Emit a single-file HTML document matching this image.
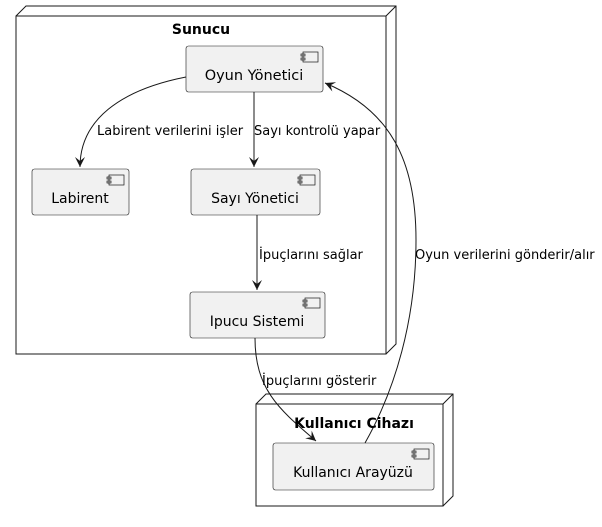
<!DOCTYPE html>
<html><head><meta charset="utf-8"><style>html,body{margin:0;padding:0;background:#fff}</style></head><body>
<svg width="602" height="522" viewBox="0 0 602 522" xmlns="http://www.w3.org/2000/svg" font-family="'DejaVu Sans','Liberation Sans',sans-serif">
<defs><marker id="a" markerWidth="12" markerHeight="12" refX="10" refY="5" orient="auto" markerUnits="userSpaceOnUse"><path d="M0,0 L10,5 L0,10 L4,5 Z" fill="#181818"/></marker></defs>
<g fill="none" stroke="#181818" stroke-width="1">
<path d="M16,16 L26,6 L396,6 L396,344 L386,354 M386,16 L396,6" />
<rect x="16" y="16" width="370" height="338" fill="#fff"/>
<path d="M256,404 L266,394 L453,394 L453,496 L443,506 M443,404 L453,394"/>
<rect x="256" y="404" width="187" height="102" fill="#fff"/>
</g>
<g fill="#f1f1f1" stroke="#181818" stroke-width="0.6">
<rect x="186" y="46" width="137" height="46" rx="2.5"/>
<rect x="32" y="169" width="97" height="46" rx="2.5"/>
<rect x="191" y="169" width="129" height="46" rx="2.5"/>
<rect x="190" y="292" width="135" height="46" rx="2.5"/>
<rect x="273" y="443" width="161" height="47" rx="2.5"/>
</g>
<g fill="none" stroke="#181818" stroke-width="0.7">
<g id="ic"><rect x="303" y="52" width="15" height="10"/><rect x="301" y="54" width="4" height="2"/><rect x="301" y="58" width="4" height="2"/></g>
<use href="#ic" x="-194" y="123"/><use href="#ic" x="-3" y="123"/><use href="#ic" x="2" y="246"/><use href="#ic" x="111" y="397"/>
</g>
<g fill="none" stroke="#181818" stroke-width="1">
<path d="M186,77 C120,90 80,120 80,167" marker-end="url(#a)"/>
<path d="M254,92 L254,167" marker-end="url(#a)"/>
<path d="M257,215 L257,290" marker-end="url(#a)"/>
<path d="M255,338 C255,390 280,410 316,441" marker-end="url(#a)"/>
<path d="M365,443 C395,390 416,320 416,240 C416,160 390,110 325,83" marker-end="url(#a)"/>
</g>
<g font-size="14" fill="#000" text-anchor="middle">
<text x="201" y="34" font-weight="bold">Sunucu</text>
<text x="354" y="428" font-weight="bold">Kullanıcı Cihazı</text>
<text x="254" y="80" font-size="14.5">Oyun Yönetici</text>
<text x="80" y="203">Labirent</text>
<text x="255" y="203">Sayı Yönetici</text>
<text x="257" y="326">Ipucu Sistemi</text>
<text x="353" y="477">Kullanıcı Arayüzü</text>
</g>
<g font-size="13" fill="#000">
<text x="97" y="135">Labirent verilerini işler</text>
<text x="254" y="135">Sayı kontrolü yapar</text>
<text x="259" y="259">İpuçlarını sağlar</text>
<text x="415" y="259">Oyun verilerini gönderir/alır</text>
<text x="262" y="385">İpuçlarını gösterir</text>
</g>
</svg>
</body></html>
